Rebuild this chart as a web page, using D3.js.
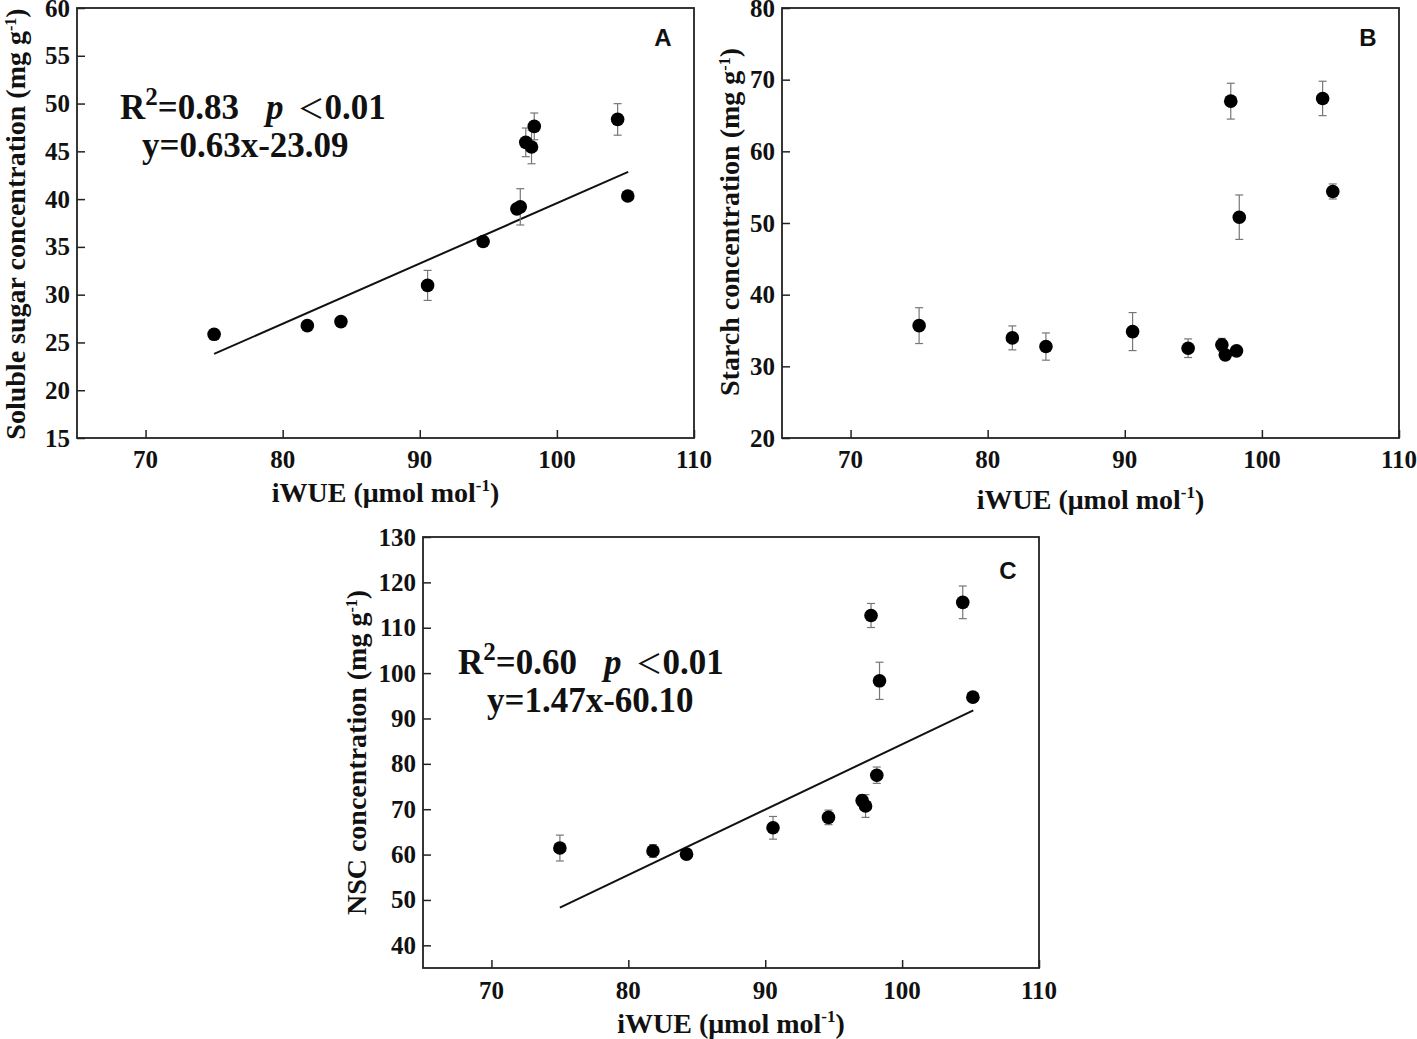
<!DOCTYPE html>
<html>
<head>
<meta charset="utf-8">
<script src="https://cdn.jsdelivr.net/npm/d3@7"></script>
<style>
  body { margin: 0; background: #fff; }
  svg text { font-family: "Liberation Serif", "Times New Roman", serif; font-weight: bold; fill: #111; }
  .tick-label { font-size: 25px; }
  .axis-title { font-size: 28px; }
  .annot { font-size: 35px; }
  .panel-letter { font-family: "Liberation Sans", Arial, sans-serif; font-size: 24px; }
</style>
</head>
<body>
<div id="chart"></div>
<script>
//iWUE values shared by all three panels (x axis)
var iwue = [75.0, 81.8, 84.25, 90.57, 94.62, 97.08, 97.33, 97.73, 98.15, 98.35, 104.43, 105.17];

//panel A: soluble sugar
var sugar = [25.85, 26.76, 27.18, 30.97, 35.57, 38.98, 39.19, 45.94, 45.45, 47.61, 48.34, 40.33];
var sugarErr = [0.3, 0.3, 0.3, 1.57, 0.4, 0.4, 1.9, 1.5, 1.75, 1.4, 1.65, 0.3];
var sugarFitX = [75.0, 105.2];
var sugarFitY = [23.8, 42.85];

//panel B: starch
var starch = [35.68, 33.97, 32.76, 34.85, 32.53, 33.0, 31.6, 67.0, 32.16, 50.81, 67.38, 54.4];
var starchErr = [2.5, 1.67, 1.9, 2.65, 1.3, 0.9, 0.5, 2.5, 0.6, 3.1, 2.4, 1.05];

//panel C: NSC
var nsc = [61.44, 60.8, 60.1, 65.9, 68.2, 71.9, 70.7, 112.7, 77.5, 98.3, 115.6, 94.7];
var nscErr = [2.85, 1.4, 1.1, 2.5, 1.6, 1.2, 2.5, 2.65, 1.8, 4.1, 3.6, 0.8];
var nscFitX = [75.0, 105.2];
var nscFitY = [48.3, 91.8];

//axis ticks
var xTicks = [70, 80, 90, 100, 110];
var sugarTicks = [15, 20, 25, 30, 35, 40, 45, 50, 55, 60];
var starchTicks = [20, 30, 40, 50, 60, 70, 80];
var nscTicks = [40, 50, 60, 70, 80, 90, 100, 110, 120, 130];

var svg = d3.select("#chart").append("svg")
    .attr("width", 1417)
    .attr("height", 1039);

//draw one scatter panel
function drawPanel(p) {
    var g = svg.append("g")
        .attr("transform", `translate(${p.left}, ${p.top})`);

    var x = d3.scaleLinear().domain([65, 110]).range([0, p.width]);
    var y = d3.scaleLinear().domain(p.yDomain).range([p.height, 0]);

    //inward ticks
    var bottomAxis = d3.axisBottom(x).tickValues(xTicks).tickSize(-8).tickFormat("");
    var leftAxis = d3.axisLeft(y).tickValues(p.yTicks).tickSize(-8).tickFormat("");

    g.append("g")
        .attr("transform", `translate(0, ${p.height})`)
        .call(bottomAxis)
        .call(a => a.select(".domain").remove())
        .selectAll("line").attr("stroke", "#222").attr("stroke-width", 1.5);

    g.append("g")
        .call(leftAxis)
        .call(a => a.select(".domain").remove())
        .selectAll("line").attr("stroke", "#222").attr("stroke-width", 1.5);

    //frame
    g.append("rect")
        .attr("width", p.width)
        .attr("height", p.height)
        .attr("fill", "none")
        .attr("stroke", "#222")
        .attr("stroke-width", 1.8);

    //tick labels
    g.selectAll(".xlab")
        .data(xTicks)
        .enter()
        .append("text")
        .attr("class", "tick-label")
        .attr("x", d => x(d))
        .attr("y", p.height + p.xLabOffset)
        .attr("text-anchor", "middle")
        .text(d => d);

    g.selectAll(".ylab")
        .data(p.yTicks)
        .enter()
        .append("text")
        .attr("class", "tick-label")
        .attr("x", -7)
        .attr("y", d => y(d))
        .attr("dy", "0.34em")
        .attr("text-anchor", "end")
        .text(d => d);

    //axis titles
    var xt = g.append("text")
        .attr("class", "axis-title")
        .attr("x", p.width / 2)
        .attr("y", p.height + p.xTitleOffset)
        .attr("text-anchor", "middle");
    xt.append("tspan").text("iWUE (μmol mol");
    xt.append("tspan").attr("font-size", "17px").attr("dy", -11).text("-1");
    xt.append("tspan").attr("dy", 11).text(")");

    var yt = g.append("text")
        .attr("class", "axis-title")
        .attr("transform", `translate(${p.yTitleX}, ${p.height / 2 + p.yTitleShift}) rotate(-90)`)
        .attr("text-anchor", "middle");
    yt.append("tspan").text(p.yTitle + " (mg g");
    yt.append("tspan").attr("font-size", "16px").attr("dy", -9).text("-1");
    yt.append("tspan").attr("dy", 9).text(")");

    //regression line
    if (p.fitX) {
        g.append("line")
            .attr("x1", x(p.fitX[0]))
            .attr("y1", y(p.fitY[0]))
            .attr("x2", x(p.fitX[1]))
            .attr("y2", y(p.fitY[1]))
            .attr("stroke", "#111")
            .attr("stroke-width", 2);
    }

    var pts = iwue.map((v, i) => ({x: v, y: p.values[i], e: p.errors[i]}));

    //error bars
    var eb = g.selectAll(".err")
        .data(pts)
        .enter()
        .append("g")
        .attr("stroke", "#777")
        .attr("stroke-width", 1.2);
    eb.append("line")
        .attr("x1", d => x(d.x)).attr("x2", d => x(d.x))
        .attr("y1", d => y(d.y - d.e)).attr("y2", d => y(d.y + d.e));
    eb.append("line")
        .attr("x1", d => x(d.x) - 4).attr("x2", d => x(d.x) + 4)
        .attr("y1", d => y(d.y + d.e)).attr("y2", d => y(d.y + d.e));
    eb.append("line")
        .attr("x1", d => x(d.x) - 4).attr("x2", d => x(d.x) + 4)
        .attr("y1", d => y(d.y - d.e)).attr("y2", d => y(d.y - d.e));

    //points
    g.selectAll("circle")
        .data(pts)
        .enter()
        .append("circle")
        .attr("cx", d => x(d.x))
        .attr("cy", d => y(d.y))
        .attr("r", 6.8)
        .attr("fill", "#000");

    //panel letter
    g.append("text")
        .attr("class", "panel-letter")
        .attr("x", p.width - 31)
        .attr("y", p.letterY)
        .attr("text-anchor", "middle")
        .text(p.letter);

    //equation text
    if (p.r2) {
        var t1 = g.append("text")
            .attr("class", "annot")
            .attr("x", p.annX)
            .attr("y", p.annY);
        t1.append("tspan").text("R");
        t1.append("tspan").attr("font-size", "25px").attr("dy", -14).text("2");
        t1.append("tspan").attr("dy", 14).text("=" + p.r2);
        t1.append("tspan").attr("dx", 27).attr("font-style", "italic").text("p");
        t1.append("tspan").attr("dx", 14)
            .attr("font-family", "'Noto Sans CJK SC', sans-serif")
            .attr("font-weight", "normal")
            .attr("font-size", "27px")
            .text("＜");
        t1.append("tspan").text("0.01");

        g.append("text")
            .attr("class", "annot")
            .attr("x", p.annX + p.eqShift)
            .attr("y", p.annY + 38)
            .text(p.eq);
    }
}

drawPanel({
    left: 77, top: 8, width: 617, height: 430,
    yDomain: [15, 60], yTicks: sugarTicks,
    values: sugar, errors: sugarErr,
    fitX: sugarFitX, fitY: sugarFitY,
    yTitle: "Soluble sugar concentration", yTitleX: -52, yTitleShift: 1,
    xLabOffset: 30, xTitleOffset: 64,
    letter: "A", letterY: 38,
    r2: "0.83", eq: "y=0.63x-23.09", annX: 43, annY: 111, eqShift: 22
});

drawPanel({
    left: 782, top: 8, width: 617, height: 430,
    yDomain: [20, 80], yTicks: starchTicks,
    values: starch, errors: starchErr,
    yTitle: "Starch concentration", yTitleX: -43, yTitleShift: -1,
    xLabOffset: 30, xTitleOffset: 71,
    letter: "B", letterY: 38
});

drawPanel({
    left: 423, top: 537, width: 616, height: 431,
    yDomain: [35, 130], yTicks: nscTicks,
    values: nsc, errors: nscErr,
    fitX: nscFitX, fitY: nscFitY,
    yTitle: "NSC concentration", yTitleX: -57, yTitleShift: 0,
    xLabOffset: 31, xTitleOffset: 65,
    letter: "C", letterY: 42,
    r2: "0.60", eq: "y=1.47x-60.10", annX: 35, annY: 137, eqShift: 29
});
</script>
</body>
</html>
